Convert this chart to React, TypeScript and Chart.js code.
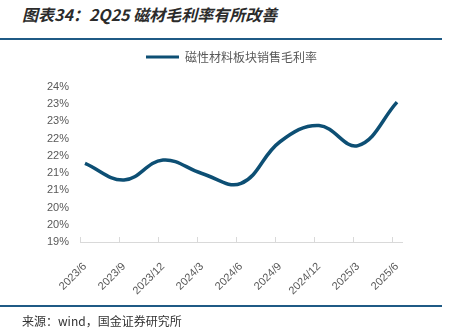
import React, { useEffect, useRef } from "react";
import { Chart, registerables } from "chart.js";

Chart.register(...registerables);

const categories = ["2023/6", "2023/9", "2023/12", "2024/3", "2024/6", "2024/9", "2024/12", "2025/3", "2025/6"];
const grossMargin = [21.78, 21.3, 21.88, 21.49, 21.2, 22.41, 22.88, 22.3, 23.56];
const seriesName = "磁性材料板块销售毛利率";
const titleText = "图表34：2Q25 磁材毛利率有所改善";
const sourceText = "来源：wind，国金证券研究所";
const yMin = 19.5;
const yMax = 24;
const yStep = 0.5;

const LINE_COLOR = "#0d4f74";
const RULE_COLOR = "#1f5a85";
const CANVAS_TOP = 41;
const CANVAS_H = 278;
const X_AXIS_H = 77;

const axisPlugin = {
  id: "axisDecor",
  beforeInit(chart: any) {
    const legend = chart.legend;
    if (legend) {
      const origFit = legend.fit;
      legend.fit = function () {
        origFit.call(this);
        this.height += 14;
      };
    }
  },
  afterLayout(chart: any) {
    const legend = chart.legend;
    if (legend) {
      legend.left += 33;
      legend.right += 33;
    }
  },
  afterDatasetsDraw(chart: any) {
    const { ctx, chartArea, scales } = chart;
    const x = scales.x;
    const y0 = chartArea.bottom;
    ctx.save();
    ctx.strokeStyle = "#d9d9d9";
    ctx.lineWidth = 1;
    ctx.beginPath();
    ctx.moveTo(chartArea.left - 5, y0 + 0.5);
    ctx.lineTo(chartArea.right + 6, y0 + 0.5);
    for (let i = 0; i < categories.length; i++) {
      const px = Math.round(x.getPixelForValue(i) - 5) + 0.5;
      ctx.moveTo(px, y0);
      ctx.lineTo(px, y0 - 5);
    }
    ctx.stroke();
    ctx.restore();
  },
};

function ChartBox() {
  const ref = useRef<HTMLCanvasElement | null>(null);
  useEffect(() => {
    if (!ref.current) return;
    const chart = new Chart(ref.current, {
      type: "line",
      data: {
        labels: categories,
        datasets: [
          {
            label: seriesName,
            data: grossMargin,
            borderColor: LINE_COLOR,
            backgroundColor: LINE_COLOR,
            borderWidth: 3.5,
            pointRadius: 0,
            tension: 0.4,
            fill: false,
          },
        ],
      },
      options: {
        animation: false,
        responsive: false,
        maintainAspectRatio: false,
        layout: { padding: { left: 0, right: 52, top: 0, bottom: 0 } },
        plugins: {
          tooltip: { enabled: false },
          legend: {
            display: true,
            position: "top",
            labels: {
              boxWidth: 33,
              boxHeight: 3,
              padding: 10,
              color: "#595959",
              font: { family: "'Noto Sans CJK SC', 'Noto Sans', sans-serif", size: 12 },
              generateLabels: (c: any) =>
                c.data.datasets.map((d: any, i: number) => ({
                  text: d.label,
                  fillStyle: d.borderColor,
                  strokeStyle: d.borderColor,
                  lineWidth: 0,
                  fontColor: "#595959",
                  datasetIndex: i,
                  hidden: false,
                })),
            },
          },
        },
        scales: {
          x: {
            type: "category",
            offset: false,
            grid: { display: false, drawTicks: false },
            border: { display: false },
            afterFit: (scale: any) => {
              scale.height = X_AXIS_H;
            },
            ticks: {
              color: "#595959",
              font: { family: "'Liberation Sans', Arial, sans-serif", size: 11 },
              minRotation: 45,
              maxRotation: 45,
              autoSkip: false,
              padding: 18,
            },
          },
          y: {
            min: yMin,
            max: yMax,
            grid: { display: false, drawTicks: false },
            border: { display: false },
            afterFit: (scale: any) => {
              scale.width = 85;
            },
            ticks: {
              stepSize: yStep,
              padding: 16,
              color: "#595959",
              font: { family: "'Liberation Sans', Arial, sans-serif", size: 11 },
              callback: (v: any) => Math.floor(Number(v) + 1e-6) + "%",
            },
          },
        },
      },
      plugins: [axisPlugin],
    });
    return () => chart.destroy();
  }, []);
  return <canvas ref={ref} width={449} height={CANVAS_H} style={{ display: "block", width: 449, height: CANVAS_H }} />;
}

export default function App() {
  return (
    <div
      style={{
        position: "fixed",
        left: 0,
        top: 0,
        width: 449,
        height: 329,
        background: "#ffffff",
        overflow: "hidden",
      }}
    >
      <div
        style={{
          position: "absolute",
          left: 22,
          top: 3,
          fontFamily: "'Noto Sans CJK SC', sans-serif",
          fontWeight: "bold",
          fontStyle: "italic",
          fontSize: 16,
          lineHeight: "22px",
          color: "#2b2b2b",
          whiteSpace: "nowrap",
        }}
      >
        {titleText}
      </div>
      <div style={{ position: "absolute", left: 0, top: 38, width: 442, height: 2, background: RULE_COLOR }} />
      <div style={{ position: "absolute", left: 0, top: CANVAS_TOP, width: 449, height: CANVAS_H }}>
        <ChartBox />
      </div>
      <div style={{ position: "absolute", left: 0, top: 305, width: 442, height: 2, background: RULE_COLOR }} />
      <div
        style={{
          position: "absolute",
          left: 22,
          top: 312,
          fontFamily: "'Noto Sans CJK SC', sans-serif",
          fontSize: 12,
          lineHeight: "17px",
          color: "#333333",
          whiteSpace: "nowrap",
        }}
      >
        {sourceText}
      </div>
    </div>
  );
}
